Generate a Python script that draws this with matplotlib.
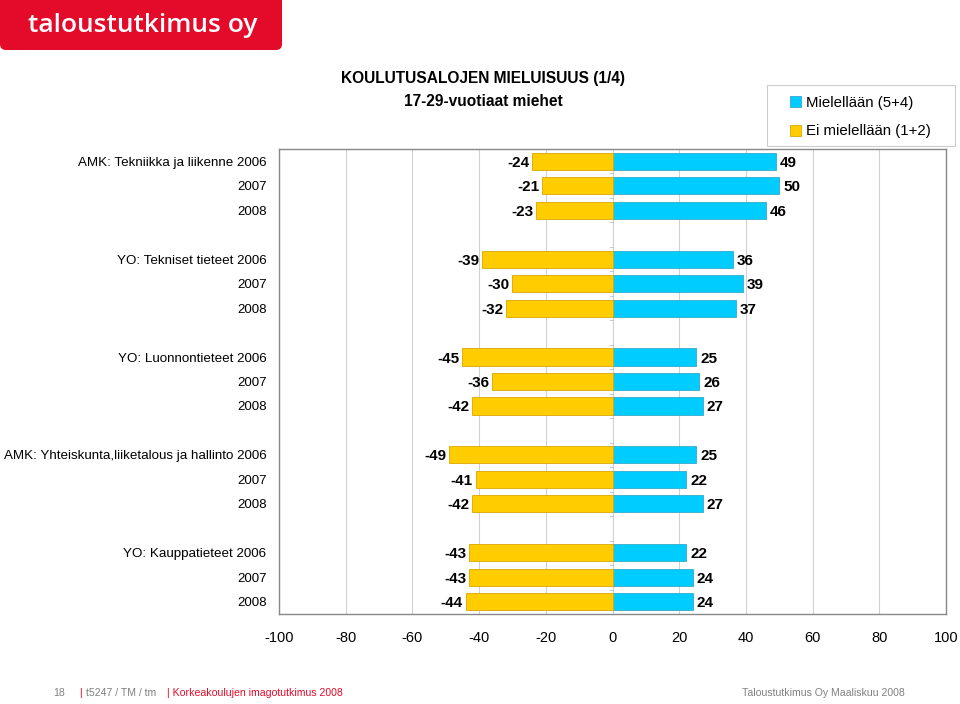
import numpy as np
import matplotlib.pyplot as plt
from matplotlib.patches import Rectangle, FancyBboxPatch

plt.rcParams['font.family'] = ['Liberation Sans', 'DejaVu Sans']

groups = ['AMK: Tekniikka ja liikenne', 'YO: Tekniset tieteet', 'YO: Luonnontieteet',
          'AMK: Yhteiskunta,liiketalous ja hallinto', 'YO: Kauppatieteet']
years = ['2006', '2007', '2008']
neg = [[-24, -21, -23], [-39, -30, -32], [-45, -36, -42], [-49, -41, -42], [-43, -43, -44]]
pos = [[49, 50, 46], [36, 39, 37], [25, 26, 27], [25, 22, 27], [22, 24, 24]]
series_names = ['Mielellään (5+4)', 'Ei mielellään (1+2)']
xticks = [-100, -80, -60, -40, -20, 0, 20, 40, 60, 80, 100]

blue = '#00CCFF'
yellow = '#FFCC00'
red = '#E30A2A'
grey = '#808080'

fig = plt.figure(figsize=(9.6, 7.04), dpi=100)

# background axes in pixel units for the page decorations
bg = fig.add_axes([0, 0, 1, 1], zorder=-1)
bg.set_xlim(0, 960)
bg.set_ylim(704, 0)
bg.axis('off')

ax = fig.add_axes([279 / 960, 1 - 614 / 704, (946 - 279) / 960, (614 - 149) / 704])

ypos, ylabels, nvals, pvals = [], [], [], []
for g, name in enumerate(groups):
    for k, yr in enumerate(years):
        ypos.append(g * 4 + k)
        ylabels.append(f'{name} {yr}' if k == 0 else yr)
        nvals.append(neg[g][k])
        pvals.append(pos[g][k])

ax.barh(ypos, pvals, height=0.7, color=blue, edgecolor='#33AACC', linewidth=0.6, zorder=3)
ax.barh(ypos, nvals, height=0.7, color=yellow, edgecolor='#D9A800', linewidth=0.6, zorder=3)

for y, n, p in zip(ypos, nvals, pvals):
    ax.annotate(str(n), (n, y), xytext=(-2, 0), textcoords='offset points',
                ha='right', va='center_baseline', fontsize=11, fontweight='bold')
    ax.annotate(str(p), (p, y), xytext=(3, 0), textcoords='offset points',
                ha='left', va='center_baseline', fontsize=11, fontweight='bold')

ax.set_xlim(-100, 100)
ax.set_ylim(18.5, -0.5)
ax.set_xticks(xticks)
ax.set_xticklabels([str(t) for t in xticks], fontsize=10.5)
ax.set_yticks(ypos)
ax.set_yticklabels(ylabels, fontsize=9.6)
ax.tick_params(axis='y', length=0, pad=9)
ax.tick_params(axis='x', length=0, pad=12)
ax.grid(axis='x', color='#D0D0D0', linewidth=0.8, zorder=0)
for s in ax.spines.values():
    s.set_color('#888888')
    s.set_linewidth(1.0)
# small ticks on the zero line between groups
for y in np.arange(-0.5, 19, 1):
    ax.plot([-0.8, 0], [y, y], color='#BBBBBB', linewidth=0.6, zorder=2)

# title
bg.text(483, 79, 'KOULUTUSALOJEN MIELUISUUS (1/4)', ha='center', va='center',
        fontsize=11.2, fontweight='bold')
bg.text(483, 101, '17-29-vuotiaat miehet', ha='center', va='center',
        fontsize=11.2, fontweight='bold')

# legend
bg.add_patch(Rectangle((767, 85), 188, 61, facecolor='white', edgecolor='#CCCCCC', linewidth=0.8))
for yy, col, ec, lab in [(101, blue, '#33AACC', series_names[0]), (130, yellow, '#D9A800', series_names[1])]:
    bg.add_patch(Rectangle((790, yy - 5.5), 11, 11, facecolor=col, edgecolor=ec, linewidth=0.6))
    bg.text(806, yy, lab, fontsize=10.8, ha='left', va='center_baseline')

# logo
bg.add_patch(FancyBboxPatch((0, -20), 282, 70, boxstyle='round,pad=0,rounding_size=6',
                            color=red, linewidth=0))
bg.text(28, 25, 'taloustutkimus oy', color='white', fontsize=19,
        fontweight='semibold', family='Open Sans', ha='left', va='center')

# footer
fy = 693
fs = 7.6
bg.text(53, fy, '18', color=grey, fontsize=fs, va='center')
bg.text(79, fy, '|', color=red, fontsize=fs, va='center')
bg.text(86, fy, 't5247 / TM / tm', color=grey, fontsize=fs, va='center')
bg.text(167, fy, '| Korkeakoulujen imagotutkimus 2008', color=red, fontsize=fs, va='center')
bg.text(905, fy, 'Taloustutkimus Oy Maaliskuu 2008', color=grey, fontsize=fs,
        va='center', ha='right')

fig.savefig('out.png', dpi=100)
